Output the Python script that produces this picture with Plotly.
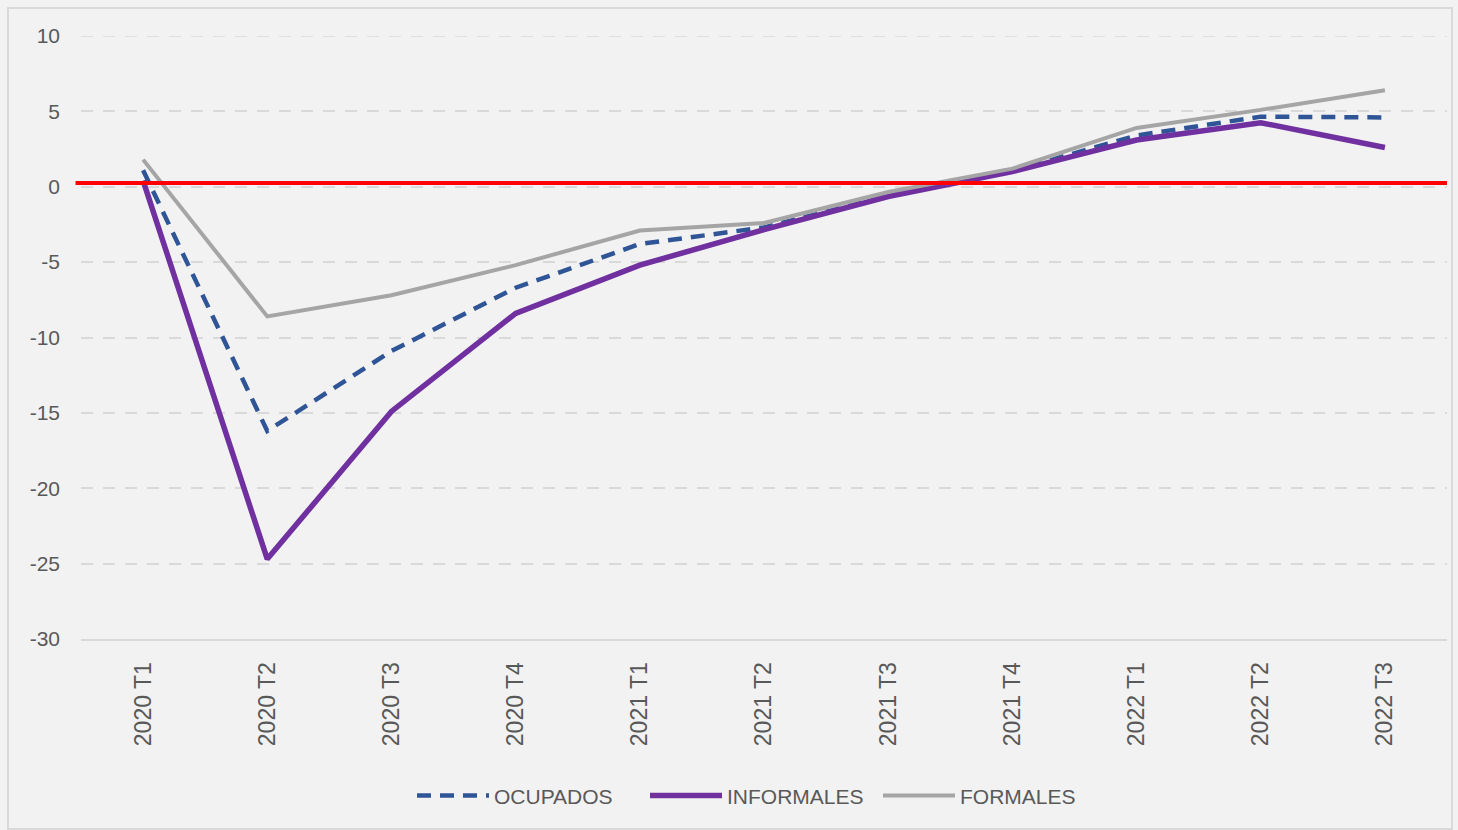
import plotly.graph_objects as go

periodos = ["2020 T1", "2020 T2", "2020 T3", "2020 T4",
            "2021 T1", "2021 T2", "2021 T3", "2021 T4",
            "2022 T1", "2022 T2", "2022 T3"]
ocupados = [1.1, -16.2, -10.9, -6.7, -3.8, -2.7, -0.6, 1.05, 3.4, 4.65, 4.6]
informales = [0.4, -24.7, -14.9, -8.4, -5.2, -2.85, -0.65, 1.0, 3.1, 4.25, 2.6]
formales = [1.8, -8.6, -7.2, -5.2, -2.9, -2.4, -0.35, 1.2, 3.9, 5.1, 6.4]
linea_ref = 0.25

y_ticks = [10, 5, 0, -5, -10, -15, -20, -25, -30]
y_labels = ["10", "5", "0", "-5", "-10", "-15", "-20", "-25", "-30"]

gris_txt = "#595959"

fig = go.Figure()
fig.add_trace(go.Scatter(x=periodos, y=ocupados, name="OCUPADOS", mode="lines",
                         line=dict(color="#2f5597", width=4.5, dash="14px,9px")))
fig.add_trace(go.Scatter(x=periodos, y=informales, name="INFORMALES", mode="lines",
                         line=dict(color="#7030a0", width=5.5)))
fig.add_trace(go.Scatter(x=periodos, y=formales, name="FORMALES", mode="lines",
                         line=dict(color="#a5a5a5", width=4)))

# la linea de rejilla superior (plotly no la dibuja en el borde)
fig.add_shape(type="line", xref="paper", yref="y", x0=0, x1=1, y0=y_ticks[0], y1=y_ticks[0],
              line=dict(color="#d9d9d9", width=1.5, dash="12px,10px"), layer="below")

# linea roja de referencia
fig.add_shape(type="line", xref="paper", yref="y", x0=-0.004, x1=1, y0=linea_ref, y1=linea_ref,
              line=dict(color="#ff0000", width=4), layer="above")

# borde del grafico
fig.add_shape(type="rect", xref="paper", yref="paper",
              x0=(8 - 81) / 1366, x1=(1452 - 81) / 1366,
              y0=(639 - 829) / 603, y1=(639 - 8) / 603,
              line=dict(color="#d9d9d9", width=2), layer="below")

fig.update_layout(
    width=1458, height=830,
    margin=dict(l=81, r=11, t=36, b=191, autoexpand=False),
    paper_bgcolor="#f2f2f2", plot_bgcolor="#f2f2f2",
    font=dict(family="Liberation Sans, Arial, sans-serif", color=gris_txt, size=20),
    showlegend=True,
    legend=dict(orientation="h", x=(412 - 81) / 1366, xanchor="left", y=-0.26, yanchor="middle",
                font=dict(family="Liberation Sans Narrow, Liberation Sans, sans-serif", size=21, color=gris_txt),
                itemwidth=72, entrywidth=146, entrywidthmode="pixels", bgcolor="rgba(0,0,0,0)"),
)
fig.update_xaxes(type="category", tickangle=-90, showgrid=False, showline=True,
                 linecolor="#d9d9d9", linewidth=2, ticks="", ticklabelstandoff=12,
                 tickfont=dict(size=23, color=gris_txt), range=[-0.5, 10.5], automargin=False)
fig.update_yaxes(range=[-30, 10], tickvals=y_ticks, ticktext=y_labels, showgrid=True,
                 gridcolor="#d9d9d9", griddash="12px,10px", gridwidth=1.5, zeroline=False,
                 showline=False, ticklabelstandoff=20, automargin=False,
                 tickfont=dict(size=21, color=gris_txt))

fig.write_html("out.html", config={"displayModeBar": False},
               post_script="document.body.style.margin='0';document.body.style.background='#f2f2f2';")
